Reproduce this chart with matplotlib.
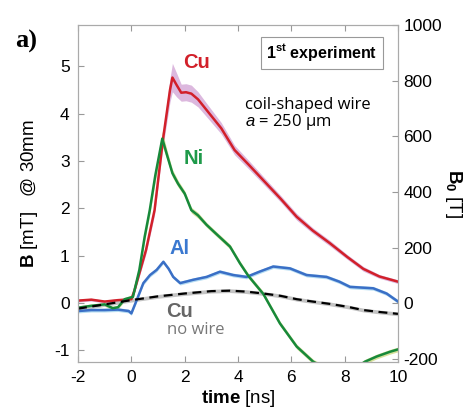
import numpy as np
import matplotlib.pyplot as plt

plt.rcParams['font.family'] = ['Liberation Sans', 'DejaVu Sans']
plt.rcParams['axes.unicode_minus'] = False
plt.rcParams['mathtext.fontset'] = 'custom'
plt.rcParams['mathtext.rm'] = 'Liberation Sans'
plt.rcParams['mathtext.it'] = 'Liberation Sans:italic'
plt.rcParams['mathtext.bf'] = 'Liberation Sans:bold'

# Cu (coil-shaped wire)
cu_t = [-2, -1.5, -1, -0.5, 0, 0.12, 0.55, 0.87, 1.19, 1.45, 1.54, 1.7, 1.87, 2.05, 2.25,
        2.5, 2.87, 3.37, 3.87, 4.4, 4.95, 5.6, 6.2, 6.8, 7.45, 8.1, 8.7, 9.3, 10]
cu_b = [0.05, 0.07, 0.03, 0.06, 0.08, 0.27, 1.12, 1.96, 3.47, 4.5, 4.76, 4.6, 4.44, 4.45, 4.42,
        4.3, 4.04, 3.69, 3.23, 2.92, 2.59, 2.2, 1.82, 1.53, 1.26, 0.97, 0.72, 0.56, 0.45]
cu_err = [0.03, 0.03, 0.03, 0.03, 0.03, 0.05, 0.08, 0.1, 0.15, 0.25, 0.3, 0.25, 0.18, 0.18, 0.18,
          0.16, 0.14, 0.12, 0.1, 0.09, 0.08, 0.07, 0.07, 0.06, 0.06, 0.05, 0.05, 0.04, 0.04]

# Ni
ni_t = [-2, -1.5, -1, -0.7, -0.5, -0.25, 0.06, 0.3, 0.5, 0.69, 0.9, 1.16, 1.35, 1.54, 1.75,
        2.0, 2.25, 2.5, 2.82, 3.2, 3.7, 4.07, 4.39, 4.95, 5.57, 6.2, 6.82, 7.5, 8.2, 8.76,
        9.2, 9.7, 10]
ni_b = [-0.1, -0.06, -0.03, -0.11, -0.09, 0.08, 0.13, 0.7, 1.4, 1.96, 2.7, 3.47, 3.1, 2.74, 2.52,
        2.31, 1.96, 1.85, 1.65, 1.45, 1.19, 0.84, 0.57, 0.19, -0.43, -0.92, -1.24, -1.45, -1.45, -1.24,
        -1.13, -1.03, -0.98]
ni_err = [0.04, 0.04, 0.04, 0.04, 0.04, 0.04, 0.04, 0.06, 0.08, 0.1, 0.12, 0.15, 0.1, 0.08, 0.07,
          0.06, 0.06, 0.06, 0.05, 0.05, 0.05, 0.05, 0.05, 0.05, 0.05, 0.05, 0.05, 0.05, 0.05, 0.05,
          0.05, 0.05, 0.05]

# Al
al_t = [-2, -1.5, -1, -0.5, -0.1, 0.0, 0.2, 0.45, 0.7, 0.95, 1.2, 1.4, 1.57, 1.83, 2.32,
        2.82, 3.32, 3.82, 4.32, 4.8, 5.32, 5.95, 6.57, 7.32, 7.8, 8.2, 9.07, 9.57, 10]
al_b = [-0.17, -0.15, -0.15, -0.14, -0.17, -0.22, 0.06, 0.42, 0.59, 0.7, 0.87, 0.72, 0.55, 0.42, 0.49,
        0.55, 0.66, 0.59, 0.55, 0.66, 0.77, 0.73, 0.59, 0.55, 0.45, 0.34, 0.31, 0.2, 0.03]

# Cu, no wire
nw_t = [-2, -1, 0, 1, 2, 3, 3.7, 4.3, 4.95, 5.6, 6.2, 6.8, 7.45, 8.1, 8.7, 9.3, 10]
nw_b = [-0.12, -0.03, 0.06, 0.14, 0.2, 0.25, 0.26, 0.24, 0.2, 0.15, 0.08, 0.03, -0.02, -0.08,
        -0.15, -0.19, -0.23]

x_ticks = [-2, 0, 2, 4, 6, 8, 10]
y_ticks = [-1, 0, 1, 2, 3, 4, 5]
b0_ticks = [-200, 0, 200, 400, 600, 800, 1000]
b0_per_mT = 169.3

fig = plt.figure(figsize=(4.74, 4.13), dpi=100)
ax = fig.add_axes([0.1646, 0.1242, 0.6751, 0.8153])

ax.fill_between(cu_t, np.array(cu_b) - cu_err, np.array(cu_b) + cu_err, color='#dcb8de', lw=0)
ax.fill_between(ni_t, np.array(ni_b) - ni_err, np.array(ni_b) + ni_err, color='#d6e09a', lw=0)
ax.fill_between(al_t, np.array(al_b) - 0.04, np.array(al_b) + 0.04, color='#b4dcf2', lw=0)
ax.fill_between(nw_t, np.array(nw_b) - 0.04, np.array(nw_b) + 0.04, color='#c4c4c4', lw=0)

ax.plot(cu_t, cu_b, color='#d2202a', lw=1.8)
ax.plot(al_t, al_b, color='#3a6fc6', lw=1.8)
ax.plot(ni_t, ni_b, color='#17893a', lw=1.8)
ax.plot(nw_t, nw_b, color='black', lw=1.6, dashes=(4, 2.5))

ax.set_xlim(-2, 10)
ax.set_ylim(-1.24, 5.87)
ax.set_xticks(x_ticks)
ax.set_yticks(y_ticks)
ax.tick_params(direction='in', length=4, color='#999999', labelsize=12.5, top=True, pad=6)
for s in ax.spines.values():
    s.set_color('#aaaaaa')

ax.set_xlabel(r'$\mathbf{time}$ [ns]', fontsize=13.5, labelpad=2)
ax.set_ylabel(r'$\mathbf{B}$ [mT]   @ 30mm', fontsize=13.5, labelpad=10)

ax2 = ax.twinx()
ax2.set_ylim(-1.24 * b0_per_mT, 5.87 * b0_per_mT)
ax2.set_yticks(b0_ticks)
ax2.tick_params(direction='in', length=4, color='#999999', labelsize=12.5, pad=4)
for s in ax2.spines.values():
    s.set_color('#aaaaaa')
ax2.set_ylabel(r'$\mathbf{B}_\mathbf{0}$ [T]', fontsize=13.5, rotation=-90, labelpad=16)

ax.text(2.46, 5.08, 'Cu', color='#d2202a', fontsize=14.5, fontweight='bold', ha='center', va='center')
ax.text(2.35, 3.06, 'Ni', color='#1f9a4a', fontsize=14.5, fontweight='bold', ha='center', va='center')
ax.text(1.82, 1.14, 'Al', color='#3a78d0', fontsize=14.5, fontweight='bold', ha='center', va='center')
ax.text(1.3, -0.17, 'Cu', color='#666666', fontsize=14.5, fontweight='bold', ha='left', va='center')
ax.text(1.34, -0.57, 'no wire', color='#777777', fontsize=12, family='Open Sans', ha='left', va='center')

ax.text(4.26, 4.18, 'coil-shaped wire', fontsize=12, family='Open Sans', ha='left', va='center')
ax.text(4.26, 3.82, r'$\it{a}$ = 250 µm', fontsize=12, family='Open Sans', ha='left', va='center')

ax.text(0.7625, 0.917, r'$\mathbf{1^{st}\ experiment}$', transform=ax.transAxes, fontsize=11.5,
        ha='center', va='center',
        bbox=dict(boxstyle='square,pad=0.35', fc='white', ec='#999999', lw=0.8))

fig.text(0.055, 0.9, 'a)', family='Liberation Serif', fontweight='bold', fontsize=19,
         ha='center', va='center')

fig.savefig('out.png', dpi=100)
